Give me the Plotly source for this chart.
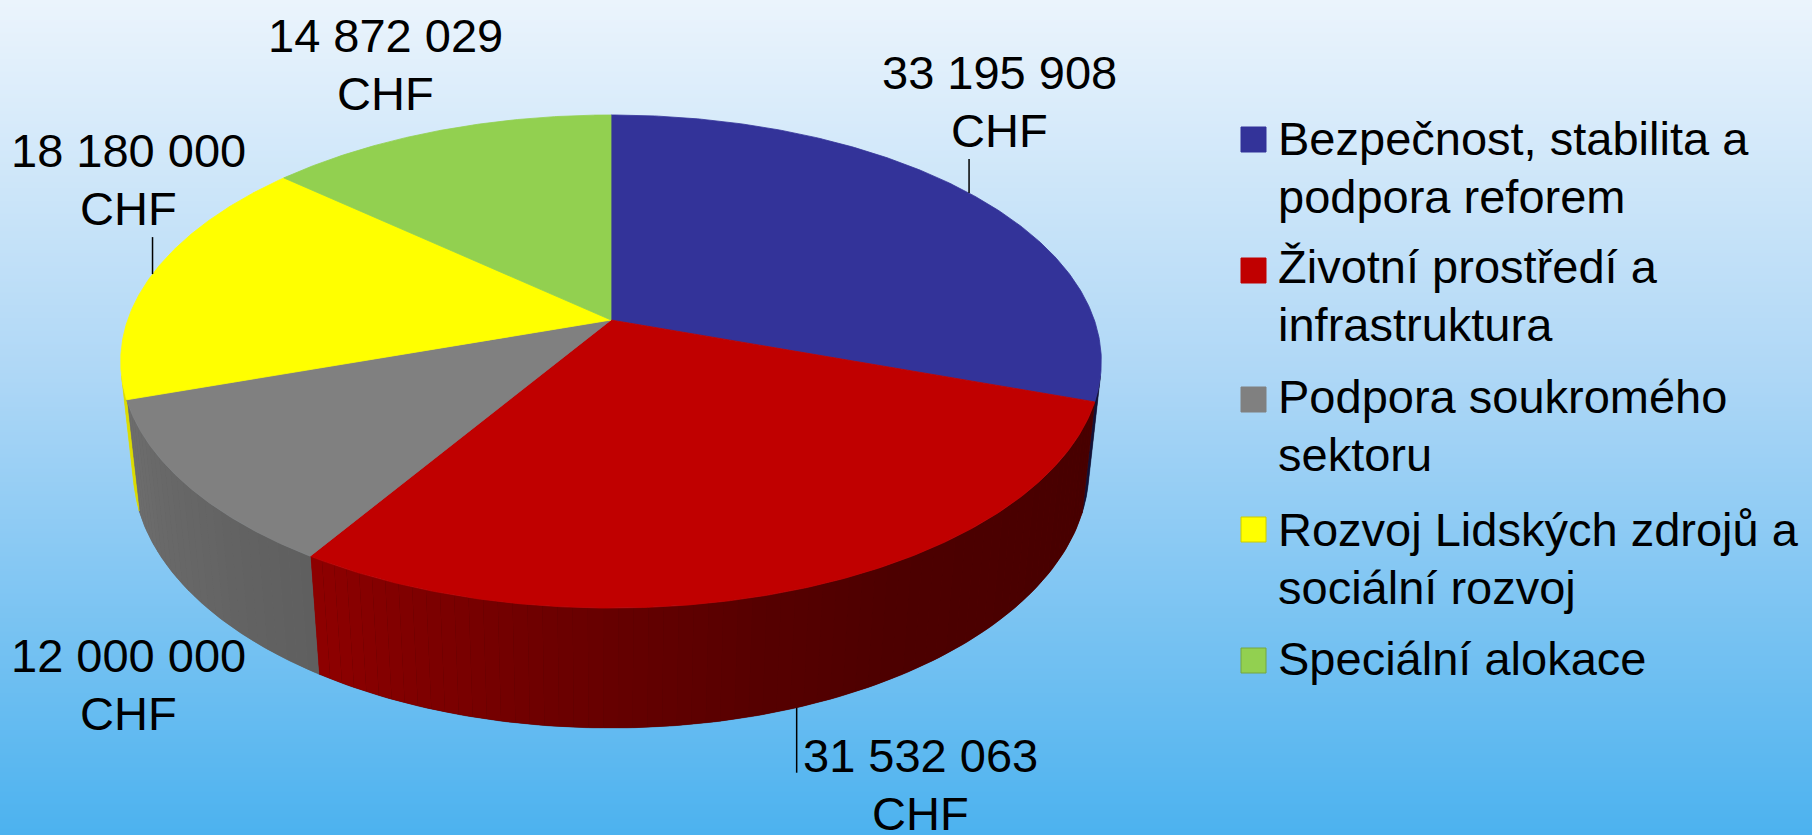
import math
import numpy as np
import plotly.graph_objects as go

# ---------------- data ----------------
categories = [
    "Bezpečnost, stabilita a podpora reforem",
    "Životní prostředí a infrastruktura",
    "Podpora soukromého sektoru",
    "Rozvoj Lidských zdrojů a sociální rozvoj",
    "Speciální alokace",
]
legend_lines = [
    ["Bezpečnost, stabilita a", "podpora reforem"],
    ["Životní prostředí a", "infrastruktura"],
    ["Podpora soukromého", "sektoru"],
    ["Rozvoj Lidských zdrojů a", "sociální rozvoj"],
    ["Speciální alokace"],
]
values = [33195908, 31532063, 12000000, 18180000, 14872029]
colors = ["#333399", "#C00000", "#808080", "#FFFF00", "#92D050"]
currency = "CHF"

# ---------------- geometry (3D pie projection) ----------------
W, H = 1812, 835
CX, CY = 611.0, 320.0
K = 2493.0
D = 5.158
SA = 0.4956
CA = math.sqrt(1 - SA * SA)
T = 0.2621  # thickness of the pie
FONT = "Liberation Sans, Arial, sans-serif"
FS = 47


def proj(theta_deg, yw=0.0, r=1.0):
    th = np.radians(theta_deg)
    X = r * np.sin(th)
    Z = r * np.cos(th)
    xc = X
    yc = yw * CA + Z * SA
    zc = D + Z * CA - yw * SA
    return CX + K * xc / zc, CY - K * yc / zc


def shade(hex_color, f):
    h = hex_color.lstrip("#")
    r, g, b = (int(h[i:i + 2], 16) for i in (0, 2, 4))
    return "rgb(%d,%d,%d)" % (round(r * f), round(g * f), round(b * f))


total = float(sum(values))
bounds = np.concatenate([[0.0], np.cumsum(values) / total * 360.0])

fig = go.Figure()

# background gradient
fig.add_trace(go.Heatmap(
    x=[0, W], y=[0, H], z=[[0, 0], [1, 1]], zsmooth="best",
    colorscale=[[0, "#EBF4FC"], [0.45, "#AED7F6"], [1, "#4CB2EF"]],
    showscale=False, hoverinfo="skip",
))

# visible outer wall (front facing part)
cut = math.degrees(math.acos(-1.0 / (D * CA)))
vis_lo, vis_hi = cut, 360.0 - cut
shade_t = [100, 150, 165, 180, 212, 260]
shade_f = [0.36, 0.40, 0.45, 0.53, 0.74, 0.88]


def wall_poly(ta, tb, npts):
    tt = np.linspace(ta, tb, npts)
    xt, yt = proj(tt, 0.0)
    xb, yb = proj(tt[::-1], -T)
    return np.concatenate([xt, xb, xt[:1]]), np.concatenate([yt, yb, yt[:1]])


for i, c in enumerate(colors):
    a0, a1 = max(bounds[i], vis_lo), min(bounds[i + 1], vis_hi)
    if a1 <= a0:
        continue
    # base wall in the mean shade (hides seams between strips)
    xs, ys = wall_poly(a0, a1, 120)
    base = shade(c, float(np.interp((a0 + a1) / 2, shade_t, shade_f)))
    fig.add_trace(go.Scatter(
        x=xs, y=ys, mode="lines", fill="toself", fillcolor=base,
        line=dict(color=base, width=0.5), hoverinfo="skip", showlegend=False,
    ))
    n = max(1, int(math.ceil((a1 - a0) / 1.5)))
    edges = np.linspace(a0, a1, n + 1)
    for ta, tb in zip(edges[:-1], edges[1:]):
        xs, ys = wall_poly(ta, tb, 4)
        col = shade(c, float(np.interp((ta + tb) / 2, shade_t, shade_f)))
        fig.add_trace(go.Scatter(
            x=xs, y=ys, mode="lines", fill="toself", fillcolor=col,
            line=dict(color=col, width=0), hoverinfo="skip", showlegend=False,
        ))

# top faces
for i, c in enumerate(colors):
    tt = np.linspace(bounds[i], bounds[i + 1], 200)
    xs, ys = proj(tt, 0.0)
    fig.add_trace(go.Scatter(
        x=np.concatenate([[CX], xs, [CX]]), y=np.concatenate([[CY], ys, [CY]]),
        mode="lines", fill="toself", fillcolor=c,
        line=dict(color=c, width=0.8), hoverinfo="skip", showlegend=False,
        name=categories[i],
    ))

annotations = []
shapes = []


def text_line(txt, x, baseline, xanchor="center"):
    annotations.append(dict(
        x=x, y=baseline - 0.3465 * FS, xref="x", yref="y", text=txt,
        showarrow=False, xanchor=xanchor, yanchor="middle",
        font=dict(family=FONT, size=FS, color="#000000"),
    ))


def fmt(v):
    return "{:,}".format(v).replace(",", " ")


mids = (bounds[:-1] + bounds[1:]) / 2

# data labels: (center x, first baseline)
label_pos = [(999, 89), (920, 772), (128, 672), (128, 167), (385, 52)]
for i, v in enumerate(values):
    lx, lb = label_pos[i]
    text_line(fmt(v), lx, lb)
    text_line(currency, lx, lb + 58)

# leader lines (blue, red, yellow)
bx, by = proj(mids[0], 0.0)
shapes.append(dict(type="line", xref="x", yref="y", x0=float(bx), x1=float(bx),
                   y0=float(by), y1=float(by) - 34, line=dict(color="#000", width=1.5)))
rx, ry = proj(mids[1], -T)
shapes.append(dict(type="line", xref="x", yref="y", x0=float(rx), x1=float(rx),
                   y0=float(ry), y1=float(ry) + 65, line=dict(color="#000", width=1.5)))
yx, yy = proj(mids[3], 0.0)
shapes.append(dict(type="line", xref="x", yref="y", x0=float(yx), x1=float(yx),
                   y0=float(yy), y1=float(yy) - 37, line=dict(color="#000", width=1.5)))

# legend
sq_top = [127, 258, 387, 517, 648]
first_base = [155, 283, 413, 546, 675]
for i, c in enumerate(colors):
    border = shade(c, 0.8) if i >= 3 else c
    shapes.append(dict(type="rect", xref="x", yref="y", x0=1241, x1=1266,
                       y0=sq_top[i], y1=sq_top[i] + 25, fillcolor=c,
                       line=dict(color=border, width=1)))
    for j, ln in enumerate(legend_lines[i]):
        text_line(ln, 1276, first_base[i] + 58 * j, xanchor="left")

fig.update_layout(
    width=W, height=H, margin=dict(l=0, r=0, t=0, b=0),
    paper_bgcolor="#EBF4FC", plot_bgcolor="rgba(0,0,0,0)",
    xaxis=dict(range=[0, W], visible=False, fixedrange=True),
    yaxis=dict(range=[H, 0], visible=False, fixedrange=True),
    showlegend=False, annotations=annotations, shapes=shapes,
)

fig.write_html(
    "out.html",
    config={"displayModeBar": False, "staticPlot": True},
    post_script="document.body.style.margin='0';document.body.style.overflow='hidden';",
)
